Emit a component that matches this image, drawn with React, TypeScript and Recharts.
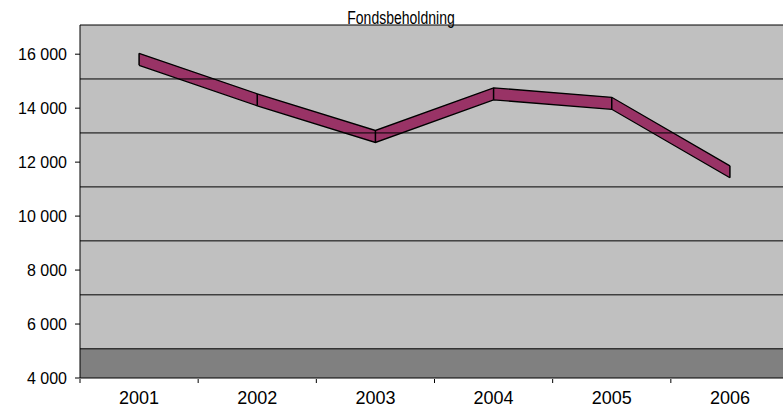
import {
  Area,
  Line,
  XAxis,
  YAxis,
  ErrorBar,
  ComposedChart,
  ReferenceArea,
  ReferenceLine,
} from "recharts";

const years = ["2001", "2002", "2003", "2004", "2005", "2006"];
const holdings = [15270, 13770, 12410, 13990, 13640, 11100];
const yTicks = [4000, 6000, 8000, 10000, 12000, 14000, 16000];
const edgeTicks = [0, 1, 2, 3, 4, 5, 6];

// fake 3D: the back wall sits DEPTH units above the front axis, ribbon halfway in
const DEPTH = 1082;
const HALF_RIBBON = 222;

const data = years.map((year, i) => ({
  year,
  pos: i + 0.5,
  ribbon: [
    holdings[i] + DEPTH / 2 - HALF_RIBBON,
    holdings[i] + DEPTH / 2 + HALF_RIBBON,
  ],
  mid: holdings[i] + DEPTH / 2,
  edge: HALF_RIBBON,
}));

const font = '"Liberation Sans", Arial, sans-serif';

const fmt = (v: number) => v.toLocaleString("en-US").replace(/,/g, " ");

export default function App() {
  return (
    <div
      style={{
        position: "absolute",
        left: 0,
        top: 0,
        width: 800,
        height: 406,
        fontFamily: font,
      }}
    >
      <ComposedChart
        width={800}
        height={406}
        data={data}
        margin={{ top: 25, right: 11, bottom: 0, left: 0 }}
      >
        <XAxis
          xAxisId="cat"
          dataKey="year"
          scale="band"
          height={1}
          interval={0}
          tickSize={0}
          tickMargin={13}
          axisLine={{ stroke: "#000" }}
          tickLine={false}
          tick={{ fill: "#000", fontSize: 18 }}
        />
        <XAxis
          xAxisId="edge"
          dataKey="pos"
          type="number"
          domain={[0, 6]}
          ticks={edgeTicks}
          tickFormatter={() => ""}
          height={27}
          tickSize={4}
          axisLine={false}
          tickLine={{ stroke: "#000" }}
          allowDataOverflow
        />
        <YAxis
          type="number"
          domain={[4000, 16000 + DEPTH]}
          ticks={yTicks}
          allowDataOverflow
          width={80}
          tickSize={5}
          tickMargin={8}
          tickFormatter={fmt}
          axisLine={{ stroke: "#000" }}
          tickLine={{ stroke: "#000" }}
          tick={{ fill: "#000", fontSize: 16 }}
        />
        <ReferenceArea
          xAxisId="cat"
          y1={4000}
          y2={16000 + DEPTH}
          fill="#c0c0c0"
          fillOpacity={1}
          stroke="none"
        />
        <ReferenceArea
          xAxisId="cat"
          y1={4000}
          y2={4000 + DEPTH}
          fill="#808080"
          fillOpacity={1}
          stroke="none"
        />
        {yTicks.map((t) => (
          <ReferenceLine
            key={t}
            xAxisId="cat"
            y={t + DEPTH}
            stroke="#000"
            strokeWidth={1}
            ifOverflow="visible"
          />
        ))}
        <Area
          xAxisId="cat"
          dataKey="ribbon"
          type="linear"
          fill="#993366"
          fillOpacity={1}
          stroke="#000"
          strokeWidth={1.3}
          dot={false}
          activeDot={false}
          isAnimationActive={false}
        />
        <Line
          xAxisId="edge"
          dataKey="mid"
          stroke="none"
          dot={false}
          activeDot={false}
          isAnimationActive={false}
        >
          <ErrorBar
            dataKey="edge"
            direction="y"
            width={0}
            stroke="#000"
            strokeWidth={1.5}
          />
        </Line>
      </ComposedChart>
      <div
        style={{
          position: "absolute",
          left: 0,
          top: 12,
          width: 802,
          textAlign: "center",
          fontSize: 14,
          lineHeight: "17px",
          color: "#000",
          transform: "scaleY(1.25)",
          transformOrigin: "50% 100%",
        }}
      >
        Fondsbeholdning
      </div>
    </div>
  );
}
